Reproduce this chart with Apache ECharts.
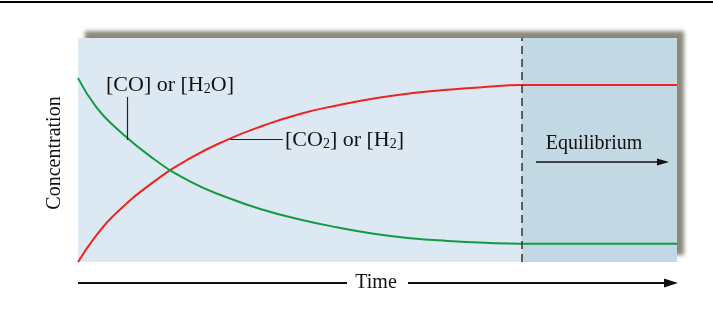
<!DOCTYPE html>
<html>
<head>
<meta charset="UTF-8">
<title>Concentration vs Time</title>
<script src="https://cdn.jsdelivr.net/npm/echarts@6/dist/echarts.min.js"></script>
</head>
<body style="margin:0;background:#fff;">
<div id="main" style="width:713px;height:310px;"></div>
<script type="text/javascript">
// time in arbitrary units, equilibrium is reached at tEq
var tMax = 8.1;
var tEq = 6;

var times = [0, 0.25, 0.5, 1, 1.5, 2, 2.5, 3, 3.5, 4, 4.5, 5, 5.5, 6, 6.5, 7, 7.5, 8, 8.1];
// [CO2] or [H2] (products)
var prodConc = [0, 0.12, 0.213, 0.352, 0.46, 0.543, 0.608, 0.661, 0.699, 0.73, 0.753, 0.769, 0.781, 0.79, 0.79, 0.79, 0.79, 0.79, 0.79];
// [CO] or [H2O] (reactants)
var reacConc = [0.821, 0.69, 0.603, 0.466, 0.362, 0.29, 0.233, 0.19, 0.155, 0.126, 0.106, 0.094, 0.086, 0.082, 0.082, 0.082, 0.082, 0.082, 0.082];

function pairs(xs, ys) {
    var out = [];
    for (var i = 0; i < xs.length; i++) {
        out.push([xs[i], ys[i]]);
    }
    return out;
}

var serif = '"Liberation Serif", "DejaVu Serif", serif';
var subStyle = {fontSize: 14, fontFamily: serif, fill: '#111', verticalAlign: 'bottom', lineHeight: 8};

var chart = echarts.init(document.getElementById('main'));

var option = {
    animation: false,
    grid: {
        left: 78, right: 36, top: 38, bottom: 48,
        show: true,
        borderWidth: 0,
        backgroundColor: '#dde9f2',
        shadowColor: '#8a8a7c',
        shadowBlur: 4,
        shadowOffsetX: 7,
        shadowOffsetY: -7
    },
    xAxis: {type: 'value', min: 0, max: tMax, show: false},
    yAxis: {type: 'value', min: 0, max: 1, show: false},
    series: [
        {
            name: '[CO2] or [H2]',
            type: 'line',
            data: pairs(times, prodConc),
            smooth: 0.5,
            symbol: 'none',
            lineStyle: {color: '#ee2420', width: 2},
            markArea: {
                silent: true,
                itemStyle: {color: '#c2d8e3'},
                data: [[{xAxis: tEq}, {xAxis: tMax}]]
            },
            markLine: {
                silent: true,
                symbol: 'none',
                label: {show: false},
                data: [
                    {xAxis: tEq, lineStyle: {color: '#333', width: 1.5, type: [8, 5]}},
                    [
                        {coord: [2.06, 0.548], lineStyle: {color: '#222', width: 1.2, type: 'solid'}},
                        {coord: [2.77, 0.548]}
                    ]
                ]
            }
        },
        {
            name: '[CO] or [H2O]',
            type: 'line',
            data: pairs(times, reacConc),
            smooth: 0.5,
            symbol: 'none',
            lineStyle: {color: '#139a42', width: 2},
            markLine: {
                silent: true,
                symbol: 'none',
                label: {show: false},
                data: [
                    [
                        {coord: [0.66, 0.737], lineStyle: {color: '#222', width: 1.2, type: 'solid'}},
                        {coord: [0.66, 0.545]}
                    ]
                ]
            }
        }
    ],
    graphic: {
        elements: [
            {type: 'line', z: 100, shape: {x1: 0, y1: 2, x2: 713, y2: 2}, style: {stroke: '#000', lineWidth: 2}},
            {
                type: 'text', z: 100, x: 55, y: 153, rotation: Math.PI / 2,
                style: {text: 'Concentration', font: '20px ' + serif, fill: '#111', textAlign: 'center', textVerticalAlign: 'middle'}
            },
            {
                type: 'text', z: 100, x: 106, y: 85,
                style: {
                    text: '[CO] or [H{s|2}O]', font: '22px ' + serif, fill: '#111',
                    textAlign: 'left', textVerticalAlign: 'middle',
                    rich: {s: subStyle}
                }
            },
            {
                type: 'text', z: 100, x: 285, y: 140,
                style: {
                    text: '[CO{s|2}] or [H{s|2}]', font: '22px ' + serif, fill: '#111',
                    textAlign: 'left', textVerticalAlign: 'middle',
                    rich: {s: subStyle}
                }
            },
            {
                type: 'text', z: 100, x: 594, y: 144,
                style: {text: 'Equilibrium', font: '20px ' + serif, fill: '#111', textAlign: 'center', textVerticalAlign: 'middle'}
            },
            {type: 'line', z: 100, shape: {x1: 536, y1: 162, x2: 660, y2: 162}, style: {stroke: '#111', lineWidth: 1.5}},
            {type: 'polygon', z: 100, shape: {points: [[669, 162], [657, 158.5], [657, 165.5]]}, style: {fill: '#111'}},
            {
                type: 'text', z: 100, x: 376, y: 283,
                style: {text: 'Time', font: '20px ' + serif, fill: '#111', textAlign: 'center', textVerticalAlign: 'middle'}
            },
            {type: 'line', z: 100, shape: {x1: 78, y1: 283, x2: 347, y2: 283}, style: {stroke: '#111', lineWidth: 2}},
            {type: 'line', z: 100, shape: {x1: 408, y1: 283, x2: 668, y2: 283}, style: {stroke: '#111', lineWidth: 2}},
            {type: 'polygon', z: 100, shape: {points: [[678, 283], [664, 278.5], [664, 287.5]]}, style: {fill: '#111'}}
        ]
    }
};
chart.setOption(option);
</script>
</body>
</html>
